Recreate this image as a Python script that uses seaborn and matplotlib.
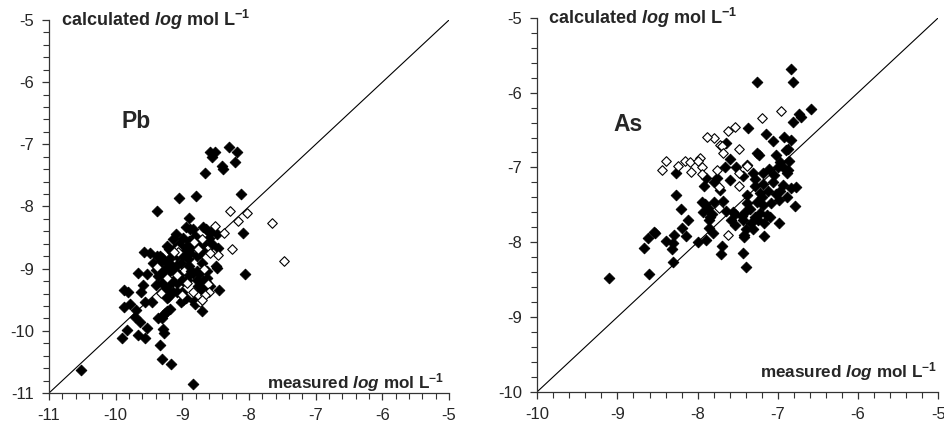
import matplotlib
matplotlib.use("Agg")
import matplotlib.pyplot as plt
import seaborn as sns
import pandas as pd
import numpy as np
from matplotlib.ticker import MultipleLocator, FuncFormatter

sns.set_theme(style="ticks")
plt.rcParams['font.family'] = ['Liberation Sans', 'DejaVu Sans']
plt.rcParams['mathtext.fontset'] = 'custom'
plt.rcParams['mathtext.rm'] = 'Liberation Sans:bold'
plt.rcParams['mathtext.it'] = 'Liberation Sans:italic:bold'
plt.rcParams['mathtext.bf'] = 'Liberation Sans:bold'

# ---------------- Pb data ----------------
pb_filled_x = [-8.295, -8.185, -8.585, -8.505, -8.56, -8.205, -8.405, -8.395, -8.655, -8.12,
               -8.795, -9.05, -9.38, -8.895, -8.085, -8.06, -8.445, -10.525, -8.84, -9.31,
               -9.165, -9.33, -9.91, -9.835, -9.66, -9.56, -9.535, -9.635, -9.71, -9.695,
               -9.875, -9.785, -9.56, -9.46, -9.87, -9.81, -9.625, -9.585, -9.67, -9.525,
               -9.57, -9.49, -9.395, -9.36, -9.31, -9.285, -9.265, -9.235, -9.185, -9.285,
               -9.275, -9.22, -9.085, -9.025, -8.94, -8.82, -8.81, -8.705, -8.70, -8.635,
               -9.435, -9.385, -9.325, -9.40, -9.37, -9.31, -9.285, -9.245, -9.21, -9.225,
               -9.195, -9.16, -9.10, -9.135, -9.125, -9.085, -9.025, -8.985, -8.985, -8.95,
               -8.885, -8.845, -8.81, -8.785, -8.76, -8.695, -8.65, -8.60, -8.56, -8.485,
               -8.46, -8.50, -8.485, -8.635, -8.635, -8.685, -8.735, -8.785, -8.835, -8.91,
               -8.895, -8.875, -8.935, -8.985, -9.045, -9.085, -9.135, -9.085, -9.145, -9.21,
               -9.26, -9.31, -9.235, -9.185, -9.11, -9.16, -9.21, -9.31, -9.335, -9.385,
               -9.01, -8.995, -8.885, -8.785, -8.735, -8.685, -8.71, -8.785, -8.76, -8.71,
               -8.65, -8.585, -9.05, -9.00, -8.95, -8.90, -9.20, -9.10, -8.90, -8.70,
               -8.85, -9.25, -9.35, -8.55, -8.60]
pb_filled_y = [-7.05, -7.12, -7.13, -7.12, -7.20, -7.28, -7.35, -7.40, -7.46, -7.80,
               -7.83, -7.87, -8.08, -8.18, -8.43, -9.09, -9.34, -10.63, -10.85, -10.45,
               -10.53, -10.22, -10.11, -9.98, -10.07, -10.12, -9.95, -9.85, -9.78, -9.66,
               -9.62, -9.57, -9.54, -9.54, -9.35, -9.37, -9.37, -9.27, -9.07, -9.08,
               -8.74, -8.75, -9.26, -9.80, -9.80, -9.75, -9.71, -9.68, -9.65, -9.97,
               -10.03, -9.46, -9.23, -9.53, -9.47, -9.52, -9.57, -9.68, -9.35, -9.28,
               -8.91, -8.95, -8.89, -9.02, -9.12, -9.04, -9.10, -8.99, -9.07, -8.64,
               -8.68, -8.74, -8.45, -8.53, -8.68, -8.80, -8.91, -8.78, -8.51, -8.33,
               -8.37, -8.37, -8.48, -8.56, -8.59, -8.33, -8.37, -8.41, -8.40, -8.44,
               -8.67, -8.95, -8.99, -9.03, -9.15, -9.20, -9.07, -9.04, -9.07, -8.85,
               -8.95, -9.03, -9.18, -9.20, -9.11, -9.18, -9.20, -9.37, -9.37, -9.28,
               -9.34, -9.23, -9.47, -9.39, -9.04, -8.95, -8.91, -8.83, -8.80, -8.80,
               -9.37, -9.50, -8.75, -8.80, -8.75, -8.59, -8.91, -9.18, -9.28, -9.35,
               -9.22, -9.28, -8.60, -8.70, -8.65, -8.55, -8.85, -8.95, -9.10, -8.70,
               -8.65, -9.15, -9.05, -8.60, -8.50]
pb_open_x = [-8.285, -8.025, -8.165, -8.505, -8.37, -8.255, -8.46, -8.585, -7.655, -7.475,
             -8.71, -8.825, -9.085, -9.06, -8.675, -8.61, -8.60, -8.655, -8.735, -8.71,
             -8.835, -9.01, -9.085, -9.235, -9.325, -9.375, -9.125, -8.76, -8.935]
pb_open_y = [-8.07, -8.10, -8.24, -8.32, -8.43, -8.68, -8.78, -8.75, -8.27, -8.87,
             -8.53, -8.57, -8.68, -8.74, -9.00, -9.25, -9.38, -9.42, -9.53, -9.50,
             -9.38, -9.42, -9.11, -9.15, -9.39, -8.97, -8.74, -8.68, -9.23]

# ---------------- As data ----------------
as_filled_x = [-6.837, -7.265, -6.81, -6.59, -6.74, -6.71, -6.81, -7.37, -7.15, -6.83,
               -7.06, -6.92, -7.65, -7.265, -7.23, -7.60, -6.87, -6.90, -7.02, -7.39,
               -7.52, -7.66, -6.86, -6.97, -6.995, -6.94, -7.11, -6.87, -6.88, -8.27,
               -7.31, -7.18, -7.43, -7.60, -7.89, -7.76, -7.80, -7.92, -7.72, -7.29,
               -7.18, -7.06, -6.94, -6.77, -6.84, -6.97, -7.12, -7.22, -7.39, -6.88,
               -8.27, -7.95, -7.91, -7.87, -7.79, -7.68, -7.38, -7.265, -7.18, -7.08,
               -6.99, -6.79, -8.21, -7.93, -7.82, -7.65, -7.56, -7.54, -7.41, -7.22,
               -7.14, -7.29, -7.44, -7.58, -7.84, -7.86, -8.12, -7.25, -7.10, -6.98,
               -7.17, -7.34, -7.40, -7.54, -7.86, -7.81, -8.19, -8.15, -8.30, -8.55,
               -8.62, -8.40, -8.31, -8.32, -8.67, -7.99, -7.89, -7.42, -7.42, -7.31,
               -7.17, -7.69, -7.71, -7.44, -7.40, -8.31, -8.61, -9.10, -8.53, -7.05,
               -7.20, -7.35, -7.45, -7.02, -7.28]
as_filled_y = [-5.68, -5.86, -5.86, -6.22, -6.29, -6.32, -6.39, -6.47, -6.55, -6.63,
               -6.64, -6.59, -6.67, -6.81, -6.84, -6.89, -6.75, -6.77, -6.84, -6.97,
               -6.99, -6.99, -6.92, -6.93, -6.99, -7.00, -7.02, -7.03, -7.07, -7.08,
               -7.08, -7.07, -7.12, -7.17, -7.14, -7.14, -7.19, -7.25, -7.30, -7.25,
               -7.22, -7.20, -7.23, -7.26, -7.27, -7.32, -7.32, -7.34, -7.37, -7.39,
               -7.37, -7.46, -7.49, -7.54, -7.46, -7.45, -7.48, -7.46, -7.50, -7.48,
               -7.43, -7.51, -7.56, -7.59, -7.62, -7.58, -7.59, -7.62, -7.59, -7.61,
               -7.63, -7.66, -7.70, -7.70, -7.66, -7.70, -7.70, -7.70, -7.66, -7.74,
               -7.75, -7.75, -7.83, -7.77, -7.81, -7.88, -7.81, -7.92, -7.90, -7.87,
               -7.95, -7.99, -8.01, -8.09, -8.08, -8.00, -7.97, -7.90, -7.93, -7.83,
               -7.92, -8.05, -8.16, -8.14, -8.33, -8.26, -8.42, -8.48, -7.88, -7.10,
               -7.40, -7.55, -7.65, -7.35, -7.15]
as_open_x = [-6.96, -7.20, -7.53, -7.62, -7.48, -7.79, -7.88, -7.72, -7.69, -7.68,
             -8.16, -8.10, -7.97, -8.00, -7.95, -7.95, -8.08, -8.25, -8.39, -8.45,
             -7.76, -7.39, -7.49, -7.49, -7.73, -7.73, -7.62]
as_open_y = [-6.24, -6.34, -6.46, -6.51, -6.75, -6.61, -6.59, -6.70, -6.72, -6.81,
             -6.91, -6.93, -6.87, -6.92, -6.99, -7.09, -7.06, -6.98, -6.92, -7.03,
             -7.03, -6.98, -7.08, -7.25, -7.26, -7.54, -7.90]

pb_filled = pd.DataFrame({"measured": pb_filled_x, "calculated": pb_filled_y})
pb_open = pd.DataFrame({"measured": pb_open_x, "calculated": pb_open_y})
as_filled = pd.DataFrame({"measured": as_filled_x, "calculated": as_filled_y})
as_open = pd.DataFrame({"measured": as_open_x, "calculated": as_open_y})

fig = plt.figure(figsize=(9.45, 4.25), dpi=100)
ax1 = fig.add_axes([0.0519, 0.0753, 0.4233, 0.8777])
ax2 = fig.add_axes([0.5685, 0.0783, 0.4243, 0.8796])

panels = [
    (ax1, pb_filled, pb_open, (-11, -5), "Pb", (-9.69, -6.63), -10.82, (-5.07, -10.83)),
    (ax2, as_filled, as_open, (-10, -5), "As", (-8.87, -6.43), -9.86, (-5.01, -9.73)),
]

fmt = FuncFormatter(lambda v, p: f"{int(round(v))}".replace("\u2212", "-"))

for ax, filled, opn, lim, label, lpos, cx, mpos in panels:
    ax.plot([lim[0], lim[1]], [lim[0], lim[1]], color="black", lw=0.8, zorder=1)
    sns.scatterplot(data=filled, x="measured", y="calculated", ax=ax, marker="D",
                    s=30, color="black", edgecolor="black", linewidth=0.6, zorder=3)
    sns.scatterplot(data=opn, x="measured", y="calculated", ax=ax, marker="D",
                    s=24, facecolor="white", edgecolor="black", linewidth=0.8, zorder=4)
    ax.set_xlim(lim)
    ax.set_ylim(lim)
    ax.set_xlabel("")
    ax.set_ylabel("")
    ax.xaxis.set_major_locator(MultipleLocator(1))
    ax.yaxis.set_major_locator(MultipleLocator(1))
    ax.xaxis.set_minor_locator(MultipleLocator(0.2))
    ax.yaxis.set_minor_locator(MultipleLocator(0.2))
    ax.xaxis.set_major_formatter(fmt)
    ax.yaxis.set_major_formatter(fmt)
    ax.tick_params(axis="both", which="major", length=5, width=0.9, labelsize=12,
                   color="#333333", pad=6)
    ax.tick_params(axis="both", which="minor", length=4, width=0.8, color="#333333")
    for side in ["top", "right"]:
        ax.spines[side].set_visible(False)
    for side in ["left", "bottom"]:
        ax.spines[side].set_color("#333333")
        ax.spines[side].set_linewidth(0.9)
    ax.set_facecolor("white")
    ax.text(lpos[0], lpos[1], label, fontsize=16.5, fontweight="bold",
            ha="center", va="center")
    ax.text(cx, lim[1], r"calculated $\mathit{log}$ mol L$^{-1}$", fontsize=13,
            fontweight="bold", ha="left", va="center", clip_on=False)
    ax.text(mpos[0], mpos[1], r"measured $\mathit{log}$ mol L$^{-1}$", fontsize=12.3,
            fontweight="bold", ha="right", va="center")

fig.savefig("out.png", dpi=100, facecolor="white")
